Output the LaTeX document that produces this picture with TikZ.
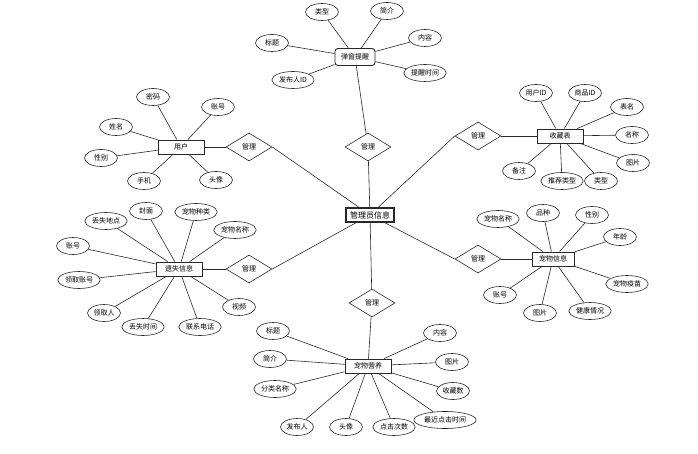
\documentclass[tikz,border=0pt]{standalone}
\usepackage{fontspec}
\newfontfamily\cjk{Noto Sans CJK SC}
\usetikzlibrary{shapes.geometric}
\definecolor{Trait}{RGB}{40,40,40}
\tikzset{entite/.style={rectangle, draw=Trait, line width=0.9pt, fill=white,
  minimum width=46pt, minimum height=14pt, inner sep=1pt, font=\cjk\fontsize{7}{8}\selectfont}}
\tikzset{entiter/.style={entite, rounded corners=3pt, minimum width=40pt, minimum height=17pt}}
\tikzset{attr/.style={ellipse, draw=Trait, line width=0.6pt, fill=white,
  minimum width=33pt, minimum height=17pt, inner xsep=1pt, inner ysep=1pt, font=\cjk\fontsize{7}{8}\selectfont}}
\tikzset{lien/.style={diamond, draw=Trait, line width=0.6pt, fill=white, aspect=1.7,
  minimum width=46pt, minimum height=28pt, inner sep=0pt, font=\cjk\fontsize{7}{8}\selectfont}}
\tikzset{tr/.style={draw=Trait, line width=0.6pt}}

\begin{document}
\begin{tikzpicture}[x=1pt, y=-1pt]
\useasboundingbox (0,0) rectangle (698,454);
% centre
\node[entite, minimum width=48pt, line width=1.1pt, font=\cjk\fontsize{8}{9}\selectfont] (adm) at (370,215) {管理员信息};
% top
\node[entiter] (tx) at (355,57) {弹窗提醒};
\node[attr] (tx1) at (322,12) {类型};
\node[attr] (tx2) at (387,11) {简介};
\node[attr] (tx3) at (425,38) {内容};
\node[attr] (tx4) at (272,43) {标题};
\node[attr] (tx5) at (293,80) {发布人ID};
\node[attr] (tx6) at (425,73) {提醒时间};
\node[lien] (r1) at (368,147) {管理};
\draw[tr] (tx)--(tx1); \draw[tr] (tx)--(tx2); \draw[tr] (tx)--(tx3);
\draw[tr] (tx)--(tx4); \draw[tr] (tx)--(tx5); \draw[tr] (tx)--(tx6);
\draw[tr] (tx)--(r1); \draw[tr] (r1)--(adm);
% user
\node[entite] (yh) at (181,147) {用户};
\node[attr] (yh1) at (153,97) {密码};
\node[attr] (yh2) at (218,107) {账号};
\node[attr] (yh3) at (116,127) {姓名};
\node[attr] (yh4) at (101,158) {性别};
\node[attr] (yh5) at (144,181) {手机};
\node[attr] (yh6) at (216,180) {头像};
\node[lien] (r2) at (249,147) {管理};
\draw[tr] (yh)--(yh1); \draw[tr] (yh)--(yh2); \draw[tr] (yh)--(yh3);
\draw[tr] (yh)--(yh4); \draw[tr] (yh)--(yh5); \draw[tr] (yh)--(yh6);
\draw[tr] (yh)--(r2); \draw[tr] (r2.east)--(adm);
% favourites
\node[entite] (sc) at (560,136) {收藏表};
\node[attr] (sc1) at (536,93) {用户ID};
\node[attr] (sc2) at (585,93) {商品ID};
\node[attr] (sc3) at (627,107) {表名};
\node[attr] (sc4) at (632,135) {名称};
\node[attr] (sc5) at (633,163) {图片};
\node[attr] (sc6) at (519,171) {备注};
\node[attr] (sc7) at (562,181) {推荐类型};
\node[attr] (sc8) at (601,181) {类型};
\node[lien] (r3) at (478,136) {管理};
\draw[tr] (sc)--(sc1); \draw[tr] (sc)--(sc2); \draw[tr] (sc)--(sc3); \draw[tr] (sc)--(sc4);
\draw[tr] (sc)--(sc5); \draw[tr] (sc)--(sc6); \draw[tr] (sc)--(sc7); \draw[tr] (sc)--(sc8);
\draw[tr] (sc)--(r3); \draw[tr] (r3.west)--(adm);
% lost
\node[entite] (ys) at (179,269) {遗失信息};
\node[attr] (ys1) at (106,221) {丢失地点};
\node[attr] (ys2) at (146,211) {封面};
\node[attr] (ys3) at (196,212) {宠物种类};
\node[attr] (ys4) at (235,230) {宠物名称};
\node[attr] (ys5) at (73,246) {账号};
\node[attr] (ys6) at (79,280) {领取账号};
\node[attr] (ys7) at (104,313) {领取人};
\node[attr] (ys8) at (143,327) {丢失时间};
\node[attr] (ys9) at (200,327) {联系电话};
\node[attr] (ys10) at (239,307) {视频};
\node[lien] (r4) at (249,269) {管理};
\draw[tr] (ys)--(ys1); \draw[tr] (ys)--(ys2); \draw[tr] (ys)--(ys3); \draw[tr] (ys)--(ys4);
\draw[tr] (ys)--(ys5); \draw[tr] (ys)--(ys6); \draw[tr] (ys)--(ys7); \draw[tr] (ys)--(ys8);
\draw[tr] (ys)--(ys9); \draw[tr] (ys)--(ys10);
\draw[tr] (ys)--(r4); \draw[tr] (r4.east)--(adm);
% pets
\node[entite, minimum width=42pt] (cw) at (553,259) {宠物信息};
\node[attr] (cw1) at (498,219) {宠物名称};
\node[attr] (cw2) at (543,213) {品种};
\node[attr] (cw3) at (592,215) {性别};
\node[attr] (cw4) at (620,237) {年龄};
\node[attr] (cw5) at (627,284) {宠物疫苗};
\node[attr] (cw6) at (590,311) {健康情况};
\node[attr] (cw7) at (540,313) {图片};
\node[attr] (cw8) at (500,295) {账号};
\node[lien] (r5) at (478,259) {管理};
\draw[tr] (cw)--(cw1); \draw[tr] (cw)--(cw2); \draw[tr] (cw)--(cw3); \draw[tr] (cw)--(cw4);
\draw[tr] (cw)--(cw5); \draw[tr] (cw)--(cw6); \draw[tr] (cw)--(cw7); \draw[tr] (cw)--(cw8);
\draw[tr] (cw)--(r5); \draw[tr] (r5.west)--(adm);
% nutrition
\node[entite] (yy) at (368,366) {宠物营养};
\node[attr] (yy1) at (273,331) {标题};
\node[attr] (yy2) at (270,359) {简介};
\node[attr] (yy3) at (275,389) {分类名称};
\node[attr] (yy4) at (297,427) {发布人};
\node[attr] (yy5) at (346,427) {头像};
\node[attr] (yy6) at (394,427) {点击次数};
\node[attr] (yy7) at (445,420) {最近点击时间};
\node[attr] (yy8) at (453,391) {收藏数};
\node[attr] (yy9) at (452,362) {图片};
\node[attr] (yy10) at (440,333) {内容};
\node[lien] (r6) at (372,303) {管理};
\draw[tr] (yy)--(yy1); \draw[tr] (yy)--(yy2); \draw[tr] (yy)--(yy3); \draw[tr] (yy)--(yy4);
\draw[tr] (yy)--(yy5); \draw[tr] (yy)--(yy6); \draw[tr] (yy)--(yy7); \draw[tr] (yy)--(yy8);
\draw[tr] (yy)--(yy9); \draw[tr] (yy)--(yy10);
\draw[tr] (yy)--(r6); \draw[tr] (r6)--(adm);
\end{tikzpicture}
\end{document}
